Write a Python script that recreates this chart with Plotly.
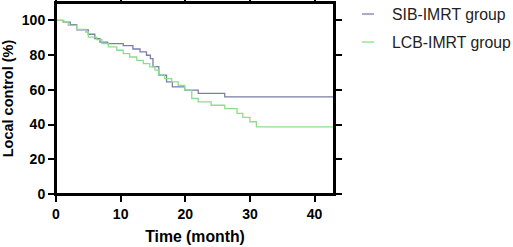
import plotly.graph_objects as go

group_names = ["SIB-IMRT group", "LCB-IMRT group"]
group_colors = ["#7a7fa8", "#8fdc8f"]

# SIB-IMRT group (Kaplan-Meier step data: value holds from each time onward)
sib_time = [0, 1.1, 2.2, 3.2, 5.0, 6.0, 6.8, 8.0, 10.4, 11.9, 13.0, 14.0, 14.6, 15.0, 15.9, 17.1, 18.0, 19.9, 22.0, 26.1, 43]
sib_val = [100, 99, 97.5, 94.5, 92, 89.5, 87.5, 86.6, 85.5, 83.5, 81.8, 79.9, 78, 73.4, 68.4, 64.6, 61.7, 59.8, 57.9, 55.9, 55.9]

# LCB-IMRT group
lcb_time = [0, 1.2, 1.9, 3.2, 4.6, 5.0, 6.3, 7.1, 8.1, 9.4, 10.4, 11.4, 12.5, 13.5, 14.5, 15.3, 15.9, 16.8, 17.9, 18.9, 19.9, 21.0, 22.0, 24.0, 26.1, 28.0, 28.9, 30.0, 31.0, 43]
lcb_val = [100, 99, 97.1, 94.8, 93.3, 90.4, 88.9, 86.6, 84.7, 82.8, 80.9, 78.9, 77, 75.1, 73.2, 71.3, 68.5, 66.5, 64.6, 62.6, 59.8, 55, 53, 51.1, 49.2, 46.4, 44.1, 41.6, 38.7, 38.7]

x_ticks = [0, 10, 20, 30, 40]
y_ticks = [0, 20, 40, 60, 80, 100]

font_family = "Arial, Liberation Sans, sans-serif"

fig = go.Figure()
for name, color, t, v in zip(group_names, group_colors, [sib_time, lcb_time], [sib_val, lcb_val]):
    fig.add_trace(go.Scatter(x=t, y=v, mode="lines", line_shape="hv",
                             line=dict(color=color, width=1.3), name=name, showlegend=False))

axis_common = dict(showline=True, linecolor="black", linewidth=2, mirror="all",
                   ticks="outside", ticklen=6, tickwidth=2, tickcolor="black",
                   showgrid=False, zeroline=False, automargin=False,
                   tickfont=dict(family=font_family, size=14, color="black", weight="bold"))

fig.update_xaxes(range=[0, 43], tickvals=x_ticks,
                 title=dict(text="Time (month)",
                            font=dict(family=font_family, size=15.8, color="black", weight="bold"),
                            standoff=10),
                 **axis_common)
fig.update_yaxes(range=[0, 110], tickvals=y_ticks,
                 title=dict(text="Local control (%)",
                            font=dict(family=font_family, size=14.5, color="black", weight="bold"),
                            standoff=6),
                 **axis_common)

# plot frame (top and right border)
fig.add_shape(type="rect", xref="paper", yref="paper", x0=0, y0=0, x1=1, y1=1,
              line=dict(color="black", width=2), layer="above")

# legend drawn at the right of the plot
legend_y = [0.9424, 0.7958]
for name, color, ly in zip(group_names, group_colors, legend_y):
    fig.add_shape(type="line", xref="paper", yref="paper", x0=1.1007, x1=1.1439, y0=ly, y1=ly,
                  line=dict(color=color, width=1.3))
    fig.add_annotation(xref="paper", yref="paper", x=1.2014, y=ly, xanchor="left", yanchor="middle",
                       text=name, showarrow=False,
                       font=dict(family=font_family, size=15.8, color="#222"))

fig.update_layout(
    width=513, height=247,
    margin=dict(l=56, r=179, t=3, b=53, autoexpand=False),
    plot_bgcolor="white", paper_bgcolor="white",
    font=dict(family=font_family, size=14, color="#333"),
    showlegend=False,
)

fig.write_html("out.html", config={"displayModeBar": False},
               post_script="document.body.style.margin='0';document.body.style.padding='0';")
